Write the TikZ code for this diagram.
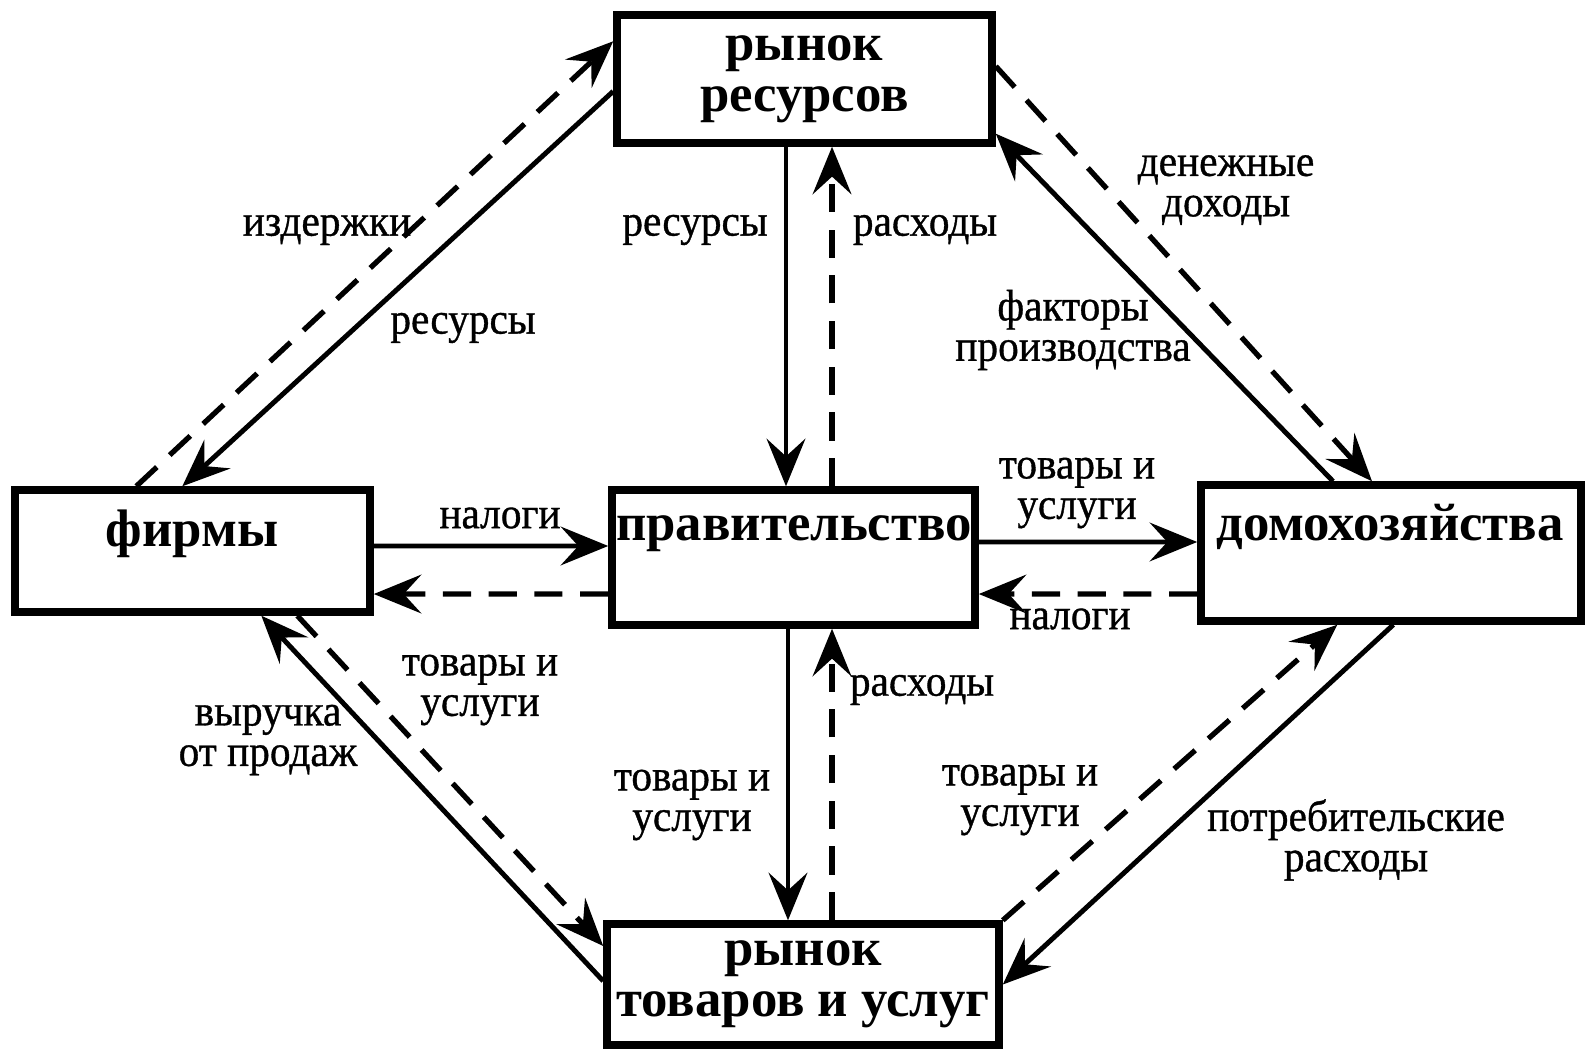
\documentclass[tikz,border=0pt]{standalone}
\usepackage{fontspec}
\setmainfont{Liberation Serif}
\newfontfamily\lblfont[FakeStretch=0.94, FakeBold=0.8]{Liberation Serif}
\usetikzlibrary{arrows.meta}
\tikzset{>={Stealth[length=13.5pt, width=11pt, inset=5pt]}}
\tikzset{box/.style={draw, line width=2.1pt, inner sep=0pt}}
\tikzset{boxtext/.style={font=\bfseries\fontsize{15}{14.5}\selectfont, align=center}}
\tikzset{lbl/.style={font=\lblfont\fontsize{12.5}{11.5}\selectfont, align=center, inner sep=1pt}}
\tikzset{realflow/.style={->, line width=1.4pt}}
\tikzset{moneyflow/.style={->, line width=1.5pt, dash pattern=on 8pt off 5pt}}

\begin{document}
\begin{tikzpicture}[x=0.01cm, y=-0.01cm]
    \useasboundingbox (0, 0) rectangle (1585, 1049);
    \node[box, minimum width=3.75cm, minimum height=1.28cm, boxtext](resm) at (804.5, 79){рынок\\ресурсов};
    \node[box, minimum width=3.55cm, minimum height=1.22cm](firms) at (192.5, 551){};
    \node[box, minimum width=3.63cm, minimum height=1.35cm](gov) at (793.5, 557.5){};
    \node[box, minimum width=3.80cm, minimum height=1.36cm](hh) at (1391, 553){};
    \node[box, minimum width=3.92cm, minimum height=1.21cm, boxtext](goodsm) at (803, 984.5){рынок\\товаров и услуг};
    \node[boxtext](firmsT) at (192, 534){фирмы};
    \node[boxtext](govT) at (794, 534){правительство};
    \node[boxtext](hhT) at (1390, 527){домохозяйства};

    \draw[moneyflow]([xshift=1.25cm]firms.north west)--([yshift=-0.3cm]resm.north west);
    \draw[realflow]([yshift=-0.8cm]resm.north west)--([xshift=1.71cm]firms.north west);
    \draw[realflow]([xshift=-0.185cm]resm.south)--([xshift=-0.185cm]resm.south |- gov.north);
    \draw[moneyflow]([xshift=0.385cm]gov.north)--([xshift=0.385cm]gov.north |- resm.south);
    \draw[realflow]([xshift=-0.58cm]hh.north)--([yshift=0.13cm]resm.south east);
    \draw[moneyflow]([yshift=-0.55cm]resm.north east)--([xshift=-0.19cm]hh.north);
    \draw[realflow]([yshift=0.05cm]firms.east)--([yshift=0.115cm]gov.west);
    \draw[moneyflow]([yshift=-0.365cm]gov.west)--([yshift=-0.43cm]firms.east);
    \draw[realflow]([yshift=0.155cm]gov.east)--([yshift=0.11cm]hh.west);
    \draw[moneyflow]([yshift=-0.41cm]hh.west)--([yshift=-0.365cm]gov.east);
    \draw[realflow]([yshift=0.035cm]goodsm.west)--([xshift=2.5cm]firms.south west);
    \draw[moneyflow]([xshift=2.86cm]firms.south west)--([yshift=0.385cm]goodsm.west);
    \draw[realflow]([xshift=-0.055cm]gov.south)--([xshift=-0.055cm]gov.south |- goodsm.north);
    \draw[moneyflow]([xshift=0.29cm]goodsm.north)--([xshift=0.29cm]goodsm.north |- gov.south);
    \draw[moneyflow](goodsm.north east)--([xshift=1.4cm]hh.south west);
    \draw[realflow]([xshift=1.96cm]hh.south west)--(goodsm.east);

    \node[lbl](costs) at (327, 230){издержки};
    \node[lbl](resA) at (463, 328){ресурсы};
    \node[lbl](resB) at (695, 230){ресурсы};
    \node[lbl](spendA) at (925, 230){расходы};
    \node[lbl](income) at (1226, 190){денежные\\доходы};
    \node[lbl](factors) at (1073, 330){факторы\\производства};
    \node[lbl](taxA) at (500, 518){налоги};
    \node[lbl](goodsA) at (1077, 493){товары и\\услуги};
    \node[lbl](taxB) at (1070, 619){налоги};
    \node[lbl](goodsB) at (480, 690){товары и\\услуги};
    \node[lbl](revenue) at (268, 740){выручка\\от продаж};
    \node[lbl](spendB) at (922, 690){расходы};
    \node[lbl](goodsC) at (692, 805){товары и\\услуги};
    \node[lbl](goodsD) at (1020, 800){товары и\\услуги};
    \node[lbl](consume) at (1356, 840){потребительские\\расходы};
\end{tikzpicture}
\end{document}
